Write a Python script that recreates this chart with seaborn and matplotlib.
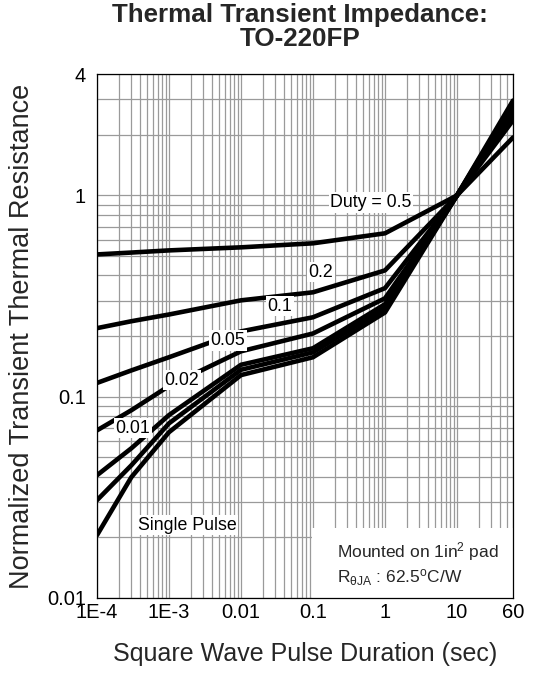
import numpy as np
import pandas as pd
import matplotlib
matplotlib.use("Agg")
import matplotlib.pyplot as plt
import seaborn as sns
from matplotlib.ticker import FixedLocator, LogLocator, NullFormatter, FixedFormatter
from matplotlib.patches import Rectangle

# Pulse duration (sec) where the curves were read
pulse_time = [1e-4, 3e-4, 1e-3, 0.01, 0.1, 1, 10, 60]

# Normalized transient thermal resistance per duty cycle
duty_05 = [0.509, 0.52, 0.533, 0.552, 0.578, 0.648, 1.0, 1.94]
duty_02 = [0.219, 0.237, 0.256, 0.301, 0.330, 0.424, 1.0, 2.36]
duty_01 = [0.117, 0.135, 0.157, 0.211, 0.248, 0.346, 1.0, 2.52]
duty_005 = [0.068, 0.0856, 0.113, 0.168, 0.206, 0.308, 1.0, 2.64]
duty_002 = [0.0407, 0.0554, 0.081, 0.144, 0.174, 0.288, 1.0, 2.77]
duty_001 = [0.0306, 0.0456, 0.0737, 0.136, 0.166, 0.275, 1.0, 2.86]
single_pulse = [0.0205, 0.0398, 0.0666, 0.128, 0.157, 0.262, 1.0, 2.96]

series = {
    "0.5": duty_05,
    "0.2": duty_02,
    "0.1": duty_01,
    "0.05": duty_005,
    "0.02": duty_002,
    "0.01": duty_001,
    "single": single_pulse,
}

# curve labels and where they sit (data coords)
curve_labels = ["Duty = 0.5", "0.2", "0.1", "0.05", "0.02", "0.01", "Single Pulse"]
label_x = [0.64, 0.129, 0.0348, 0.0066, 0.00152, 3.16e-4, 0.00178]
label_y = [0.923, 0.415, 0.281, 0.19, 0.1206, 0.0697, 0.023]

x_ticks = [1e-4, 1e-3, 0.01, 0.1, 1, 10, 60]
x_ticklabels = ["1E-4", "1E-3", "0.01", "0.1", "1", "10", "60"]
y_ticks = [0.01, 0.1, 1, 4]
y_ticklabels = ["0.01", "0.1", "1", "4"]

df = pd.concat(
    [pd.DataFrame({"t": pulse_time, "z": vals, "duty": name}) for name, vals in series.items()],
    ignore_index=True,
)

sns.set_theme(style="whitegrid")
plt.rcParams["font.family"] = ["Liberation Sans", "DejaVu Sans"]
plt.rcParams["mathtext.fontset"] = "custom"
plt.rcParams["mathtext.rm"] = "Liberation Sans"
plt.rcParams["mathtext.it"] = "Liberation Sans"

fig = plt.figure(figsize=(5.33, 6.81), dpi=100)
ax = fig.add_axes([0.182, 0.122, 0.7805, 0.769])
ax.set_xscale("log")
ax.set_yscale("log")

sns.lineplot(
    data=df, x="t", y="z", hue="duty", estimator=None, sort=False,
    palette=["black"] * len(series), linewidth=3.3, legend=False, ax=ax, zorder=3,
)

ax.set_xlim(1e-4, 60)
ax.set_ylim(0.01, 4)

# grid: every decade subdivision
ax.xaxis.set_minor_locator(LogLocator(base=10, subs=np.arange(2, 10), numticks=20))
ax.yaxis.set_minor_locator(LogLocator(base=10, subs=np.arange(2, 10), numticks=20))
ax.xaxis.set_major_locator(FixedLocator(x_ticks))
ax.xaxis.set_major_formatter(FixedFormatter(x_ticklabels))
ax.yaxis.set_major_locator(FixedLocator(y_ticks))
ax.yaxis.set_major_formatter(FixedFormatter(y_ticklabels))
ax.xaxis.set_minor_formatter(NullFormatter())
ax.yaxis.set_minor_formatter(NullFormatter())
ax.grid(True, which="both", color="#9a9a9a", linewidth=0.9)
ax.tick_params(axis="both", which="both", length=0, labelsize=14.5, colors="black")
ax.tick_params(axis="x", pad=4)
ax.tick_params(axis="y", pad=8)
for sp in ax.spines.values():
    sp.set_color("black")
    sp.set_linewidth(0.9)

# labels on the curves
for txt, lx, ly in zip(curve_labels, label_x, label_y):
    ax.text(lx, ly, txt, ha="center", va="center", fontsize=12.8, color="black", zorder=5,
            bbox=dict(facecolor="white", edgecolor="none", pad=1.2))

# mounting note in the lower right corner
ax.add_patch(Rectangle((0.517, 0.0), 0.483, 0.134, transform=ax.transAxes,
                       facecolor="white", edgecolor="none", zorder=2))
ax.text(0.577, 0.088, "Mounted on 1in$^2$ pad", transform=ax.transAxes,
        ha="left", va="center", fontsize=12.5, zorder=5)
ax.text(0.577, 0.038, r"R$_{\theta\mathrm{JA}}$ : 62.5$^\mathrm{o}$C/W", transform=ax.transAxes,
        ha="left", va="center", fontsize=12.5, zorder=5)

ax.set_xlabel("Square Wave Pulse Duration (sec)", fontsize=18, labelpad=14)
ax.set_ylabel("Normalized Transient Thermal Resistance", fontsize=19.5)
ax.yaxis.set_label_coords(-0.148, 0.5)

fig.text(0.563, 0.996, "Thermal Transient Impedance:\nTO-220FP", ha="center", va="top",
         fontsize=18.7, fontweight="bold", linespacing=1.0)

fig.savefig("out.png", dpi=100)
